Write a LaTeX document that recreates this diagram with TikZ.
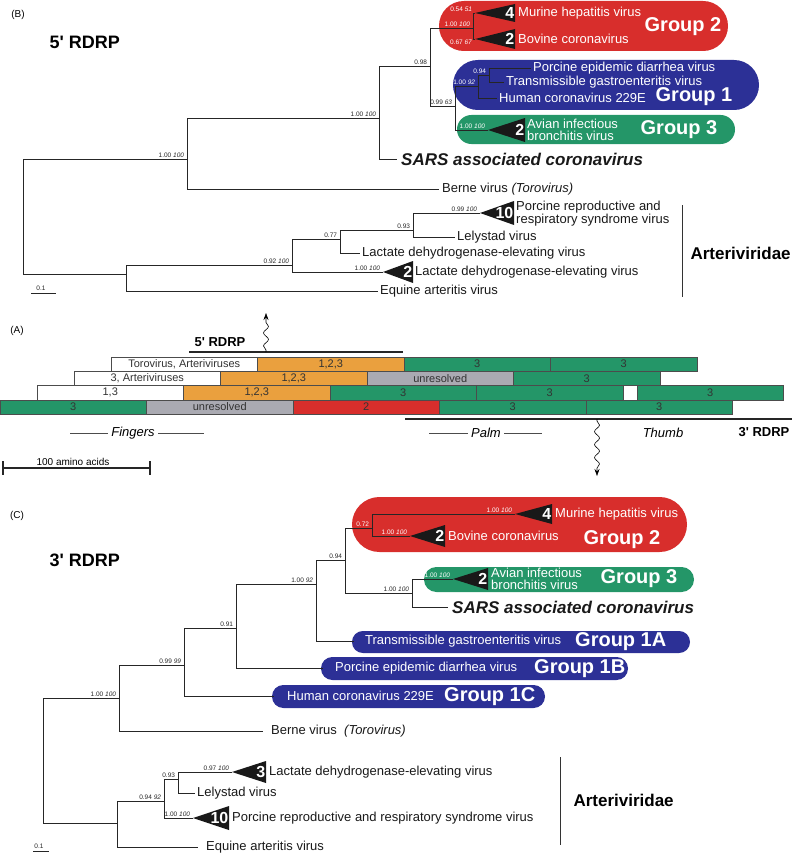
\documentclass[tikz,border=0pt]{standalone}
\usepackage{fontspec}
\setmainfont{Liberation Sans}[Ligatures=TeXOff]
\usepackage{xcolor}
\usepackage{tikz}
\usetikzlibrary{arrows.meta,decorations.pathmorphing}

\definecolor{grpRed}{RGB}{216,46,44}
\definecolor{grpBlue}{RGB}{44,48,150}
\definecolor{grpGreen}{RGB}{36,150,104}
\definecolor{barOrange}{RGB}{234,160,62}
\definecolor{barGray}{RGB}{170,170,178}

\tikzstyle{tsBranch} = [
    draw=black!85,
    line width=0.7pt
]
\tikzstyle{tsSupp} = [
    font=\fontsize{6.5}{7}\selectfont,
    text=black!85,
    anchor=south east,
    inner sep=0.8pt,
    xshift=-2pt
]
\tikzstyle{tsSuppW} = [
    tsSupp,
    text=white
]
\tikzstyle{tsLeaf} = [
    font=\fontsize{13}{13}\selectfont,
    text=black!90,
    anchor=west,
    inner sep=1pt
]
\tikzstyle{tsSars} = [
    tsLeaf,
    font=\bfseries\itshape\fontsize{17}{17}\selectfont
]
\tikzstyle{tsGroupName} = [
    font=\bfseries\fontsize{20}{20}\selectfont,
    text=white,
    inner sep=0pt
]
\tikzstyle{tsCladeNum} = [
    font=\bfseries\fontsize{16}{16}\selectfont,
    text=white,
    anchor=east,
    inner sep=0.5pt
]
\tikzstyle{tsTitle} = [
    font=\bfseries\fontsize{18}{18}\selectfont,
    anchor=west
]
\tikzstyle{tsPanel} = [
    font=\fontsize{10}{10}\selectfont
]
\tikzstyle{tsFamily} = [
    font=\bfseries\fontsize{17}{17}\selectfont,
    anchor=west
]
\tikzstyle{tsBar} = [
    rectangle,
    draw=black!70,
    line width=0.4pt,
    minimum width=146.5pt,
    minimum height=14.3pt,
    inner sep=0pt,
    font=\fontsize{11}{11}\selectfont,
    text=black!80
]
\tikzstyle{tsRdrp} = [
    line width=2pt,
    black!85
]
\tikzstyle{tsRdrpName} = [
    font=\bfseries\fontsize{13}{13}\selectfont
]
\tikzstyle{tsDomain} = [
    font=\itshape\fontsize{13}{13}\selectfont
]
\tikzstyle{tsDomLine} = [
    black!70,
    line width=0.6pt
]
\tikzstyle{tsWavy} = [
    -{Stealth[length=7pt,width=5pt]},
    line width=0.6pt,
    decorate,
    decoration={snake, amplitude=2.5pt, segment length=13pt, pre length=2pt, post length=7pt}
]

\newcommand{\tsClade}[5]{%
    \fill[black!90] (#2) -- ++(#3,-#4) -- ++(0,2*#4) -- cycle;
    \path (#2) ++(#3,0) node[tsCladeNum] (#1) {#5};
}

\begin{document}
\begin{tikzpicture}[x=1pt, y=-1pt]

    \useasboundingbox (0,0) rectangle (792,856);

    % ---------------- (B) 5' RDRP tree ----------------
    \node[tsPanel] (panB) at (18,15) {(B)};
    \node[tsTitle] (titB) at (46,42) {5' RDRP};

    \fill[grpRed, rounded corners=24.9pt] (439,1) rectangle (728,51);
    \fill[grpBlue, rounded corners=24.9pt] (453,60) rectangle (759,110);
    \fill[grpGreen, rounded corners=14.4pt] (457,115) rectangle (735,144);

    \coordinate (rB) at (23,216);
    \coordinate (aB) at (187,159);
    \coordinate (bB) at (379,118);
    \coordinate (cB) at (430,66);
    \coordinate (g2B) at (473,28);
    \coordinate (mhvB) at (475,13);
    \coordinate (bcvB) at (475,39);
    \coordinate (dB) at (455,106);
    \coordinate (g1B) at (478,86);
    \coordinate (eB) at (489,75);
    \coordinate (pedB) at (531,68);
    \coordinate (tgeB) at (504,82);
    \coordinate (hcvB) at (497,98);
    \coordinate (ibvB) at (488,130);
    \coordinate (sarsB) at (397,159);
    \coordinate (berB) at (439,189);
    \coordinate (artB) at (126,274);
    \coordinate (fB) at (292,265);
    \coordinate (gB) at (340,239);
    \coordinate (hB) at (413,230);
    \coordinate (prrB) at (480,213);
    \coordinate (lelB) at (455,237);
    \coordinate (ldvB) at (360,253);
    \coordinate (ldv2B) at (383,272);
    \coordinate (eavB) at (378,291);

    \draw[tsBranch] (rB) |- (aB) (rB) |- (artB)
        (aB) |- (bB) (aB) |- (berB)
        (bB) |- (cB) (bB) |- (sarsB)
        (cB) |- (g2B) (cB) |- (dB)
        (g2B) |- (mhvB) (g2B) |- (bcvB)
        (dB) |- (g1B) (dB) |- (ibvB)
        (g1B) |- (eB) (g1B) |- (hcvB)
        (eB) |- (pedB) (eB) |- (tgeB)
        (artB) |- (fB) (artB) |- (eavB)
        (fB) |- (gB) (fB) |- (ldv2B)
        (gB) |- (hB) (gB) |- (ldvB)
        (hB) |- (prrB) (hB) |- (lelB);

    \tsClade{nMhvB}{mhvB}{40}{9}{4}
    \tsClade{nBcvB}{bcvB}{40}{10}{2}
    \tsClade{nIbvB}{ibvB}{37}{12}{2}
    \tsClade{nPrrB}{prrB}{34}{12}{10}
    \tsClade{nLdvB}{ldv2B}{30}{11}{2}

    \node[tsSupp] (sAB) at (aB) {1.00 \textit{100}};
    \node[tsSupp] (sBB) at (bB) {1.00 \textit{100}};
    \node[tsSupp] (sCB) at (cB) {0.98};
    \node[tsSuppW] (sG2B) at (g2B) {1.00 \textit{100}};
    \node[tsSuppW] (sMhvB) at (mhvB) {0.54 \textit{51}};
    \node[tsSuppW, anchor=north east] (sBcvB) at (bcvB) {0.67 \textit{67}};
    \node[tsSupp] (sDB) at (dB) {0.99 \textit{63}};
    \node[tsSuppW] (sG1B) at (g1B) {1.00 \textit{92}};
    \node[tsSuppW] (sEB) at (eB) {0.94};
    \node[tsSuppW] (sIbvB) at (ibvB) {1.00 \textit{100}};
    \node[tsSupp] (sFB) at (fB) {0.92 \textit{100}};
    \node[tsSupp] (sGB) at (gB) {0.77};
    \node[tsSupp] (sHB) at (hB) {0.93};
    \node[tsSupp] (sPrrB) at (prrB) {0.99 \textit{100}};
    \node[tsSupp] (sLdvB) at (ldv2B) {1.00 \textit{100}};

    \node[tsLeaf, text=white] (tMhvB) at (517,13) {Murine hepatitis virus};
    \node[tsLeaf, text=white] (tBcvB) at (517,39) {Bovine coronavirus};
    \node[tsLeaf, text=white] (tPedB) at (532,68) {Porcine epidemic diarrhea virus};
    \node[tsLeaf, text=white] (tTgeB) at (505,82) {Transmissible gastroenteritis virus};
    \node[tsLeaf, text=white] (tHcvB) at (498,98) {Human coronavirus 229E};
    \node[tsLeaf, text=white, align=left, font=\fontsize{13}{12}\selectfont] (tIbvB) at (526,130) {Avian infectious\\bronchitis virus};
    \node[tsSars] (tSarsB) at (400,159) {SARS associated coronavirus};
    \node[tsLeaf] (tBerB) at (441,189) {Berne virus \textit{(Torovirus)}};
    \node[tsLeaf, align=left] (tPrrB) at (515,214) {Porcine reproductive and\\respiratory syndrome virus};
    \node[tsLeaf] (tLelB) at (456,237) {Lelystad virus};
    \node[tsLeaf] (tLdvB) at (361,253) {Lactate dehydrogenase-elevating virus};
    \node[tsLeaf] (tLdv2B) at (414,272) {Lactate dehydrogenase-elevating virus};
    \node[tsLeaf] (tEavB) at (379,291) {Equine arteritis virus};

    \node[tsGroupName] (grp2B) at (683,27) {Group 2};
    \node[tsGroupName] (grp1B) at (694,97) {Group 1};
    \node[tsGroupName] (grp3B) at (679,130) {Group 3};

    \coordinate (artTopB) at (682,205);
    \coordinate (artBotB) at (682,297);
    \draw[black!80, line width=0.8pt] (artTopB) -- (artBotB);
    \node[tsFamily] (famB) at (687,253) {Arteriviridae};

    \coordinate (sclLB) at (31,293);
    \coordinate (sclRB) at (56,293);
    \draw[black!85, line width=0.7pt] (sclLB) -- (sclRB);
    \node[tsSupp, anchor=south, xshift=0pt] (sclB) at (43,292) {0.1};

    % ---------------- (A) domain map ----------------
    \node[tsPanel] (panA) at (17,331) {(A)};
    \node[tsRdrpName] (rdrp5) at (220,342) {5' RDRP};
    \node[tsRdrpName] (rdrp3) at (764,432) {3' RDRP};

    \coordinate (r5L) at (189,352);
    \coordinate (r5R) at (403,352);
    \coordinate (r3L) at (405,419);
    \coordinate (r3R) at (792,419);
    \draw[tsRdrp] (r5L) -- (r5R);
    \draw[tsRdrp] (r3L) -- (r3R);

    \coordinate (wav5) at (266,352);
    \coordinate (wav5t) at (266,313);
    \coordinate (wav3) at (597,419);
    \coordinate (wav3t) at (597,476);
    \draw[tsWavy] (wav5) -- (wav5t);
    \draw[tsWavy] (wav3) -- (wav3t);

    \foreach \fc/\lab [count=\k from 0] in {white/{Torovirus, Arteriviruses}, barOrange/{1,2,3}, grpGreen/3, grpGreen/3}
        \node[tsBar, fill=\fc] (rowA\k) at (184.25+146.5*\k,364.15) {\lab};
    \foreach \fc/\lab [count=\k from 0] in {white/{3, Arteriviruses}, barOrange/{1,2,3}, barGray/unresolved, grpGreen/3}
        \node[tsBar, fill=\fc] (rowB\k) at (147.25+146.5*\k,378.45) {\lab};
    \foreach \fc/\lab [count=\k from 0] in {white/{1,3}, barOrange/{1,2,3}, grpGreen/3, grpGreen/3}
        \node[tsBar, fill=\fc] (rowC\k) at (110.25+146.5*\k,392.75) {\lab};
    \node[tsBar, fill=white, minimum width=14pt] (rowCgap) at (630,392.75) {};
    \node[tsBar, fill=grpGreen] (rowC4) at (710.25,392.75) {3};
    \foreach \fc/\lab [count=\k from 0] in {grpGreen/3, barGray/unresolved, grpRed/2, grpGreen/3, grpGreen/3}
        \node[tsBar, fill=\fc] (rowD\k) at (73.25+146.5*\k,407.05) {\lab};

    \node[tsDomain] (fing) at (133,433) {Fingers};
    \node[tsDomain] (palm) at (486,433) {Palm};
    \node[tsDomain] (thumb) at (663,433) {Thumb};
    \coordinate (fingL) at (70,433);
    \coordinate (fingR) at (204,433);
    \coordinate (palmL) at (429,433);
    \coordinate (palmR) at (542,433);
    \draw[tsDomLine] (fingL) -- (fing) (fing) -- (fingR);
    \draw[tsDomLine] (palmL) -- (palm) (palm) -- (palmR);

    \coordinate (aaL) at (3,468);
    \coordinate (aaR) at (150,468);
    \draw[black!85, line width=1.6pt] (aaL) -- (aaR);
    \draw[black!85, line width=1.6pt] (3,461) -- (3,475) (150,461) -- (150,475);
    \node[tsPanel, anchor=base] (aaLab) at (73,465) {100 amino acids};

    % ---------------- (C) 3' RDRP tree ----------------
    \node[tsPanel] (panC) at (17,516) {(C)};
    \node[tsTitle] (titC) at (46,560) {3' RDRP};

    \fill[grpRed, rounded corners=27.4pt] (352,497) rectangle (687,552);
    \fill[grpGreen, rounded corners=12.4pt] (424,567) rectangle (694,592);
    \fill[grpBlue, rounded corners=10.9pt] (352,631) rectangle (690,653);
    \fill[grpBlue, rounded corners=11.4pt] (321,657) rectangle (628,680);
    \fill[grpBlue, rounded corners=11.4pt] (272,685) rectangle (545,708);

    \coordinate (rC) at (43,760);
    \coordinate (aC) at (119,698);
    \coordinate (bC) at (184,665);
    \coordinate (cC) at (236,628);
    \coordinate (dC) at (316,584);
    \coordinate (eC) at (345,560);
    \coordinate (g2C) at (372,528);
    \coordinate (mhvC) at (515,514);
    \coordinate (bcvC) at (410,536);
    \coordinate (fC) at (412,593);
    \coordinate (ibvC) at (453,579);
    \coordinate (sarsC) at (448,607);
    \coordinate (tgeC) at (354,641);
    \coordinate (pedC) at (323,668);
    \coordinate (hcvC) at (274,696);
    \coordinate (berC) at (263,731);
    \coordinate (artC) at (117,823);
    \coordinate (f2C) at (164,801);
    \coordinate (hC) at (178,779);
    \coordinate (ldvC) at (232,772);
    \coordinate (lelC) at (195,793);
    \coordinate (prrC) at (193,818);
    \coordinate (eavC) at (198,847);

    \draw[tsBranch] (rC) |- (aC) (rC) |- (artC)
        (aC) |- (bC) (aC) |- (berC)
        (bC) |- (cC) (bC) |- (hcvC)
        (cC) |- (dC) (cC) |- (pedC)
        (dC) |- (eC) (dC) |- (tgeC)
        (eC) |- (g2C) (eC) |- (fC)
        (g2C) |- (mhvC) (g2C) |- (bcvC)
        (fC) |- (ibvC) (fC) |- (sarsC)
        (artC) |- (f2C) (artC) |- (eavC)
        (f2C) |- (hC) (f2C) |- (prrC)
        (hC) |- (ldvC) (hC) |- (lelC);

    \tsClade{nMhvC}{mhvC}{37}{10}{4}
    \tsClade{nBcvC}{bcvC}{35}{11}{2}
    \tsClade{nIbvC}{ibvC}{35}{11}{2}
    \tsClade{nLdvC}{ldvC}{34}{11}{3}
    \tsClade{nPrrC}{prrC}{36}{12}{10}

    \node[tsSupp] (sAC) at (aC) {1.00 \textit{100}};
    \node[tsSupp] (sBC) at (bC) {0.99 \textit{99}};
    \node[tsSupp] (sCC) at (cC) {0.91};
    \node[tsSupp] (sDC) at (dC) {1.00 \textit{92}};
    \node[tsSupp] (sEC) at (eC) {0.94};
    \node[tsSuppW] (sG2C) at (g2C) {0.72};
    \node[tsSuppW] (sMhvC) at (mhvC) {1.00 \textit{100}};
    \node[tsSuppW] (sBcvC) at (bcvC) {1.00 \textit{100}};
    \node[tsSupp] (sFC) at (fC) {1.00 \textit{100}};
    \node[tsSuppW] (sIbvC) at (ibvC) {1.00 \textit{100}};
    \node[tsSupp] (sF2C) at (f2C) {0.94 \textit{92}};
    \node[tsSupp] (sHC) at (hC) {0.93};
    \node[tsSupp] (sLdvC) at (ldvC) {0.97 \textit{100}};
    \node[tsSupp] (sPrrC) at (prrC) {1.00 \textit{100}};

    \node[tsLeaf, text=white] (tMhvC) at (554,514) {Murine hepatitis virus};
    \node[tsLeaf, text=white] (tBcvC) at (447,536) {Bovine coronavirus};
    \node[tsLeaf, text=white, align=left, font=\fontsize{13}{12}\selectfont] (tIbvC) at (490,579) {Avian infectious\\bronchitis virus};
    \node[tsSars] (tSarsC) at (451,607) {SARS associated coronavirus};
    \node[tsLeaf, text=white] (tTgeC) at (364,641) {Transmissible gastroenteritis virus};
    \node[tsLeaf, text=white] (tPedC) at (334,668) {Porcine epidemic diarrhea virus};
    \node[tsLeaf, text=white] (tHcvC) at (286,696) {Human coronavirus 229E};
    \node[tsLeaf] (tBerC) at (270,731) {Berne virus \ \textit{(Torovirus)}};
    \node[tsLeaf] (tLdvC) at (268,772) {Lactate dehydrogenase-elevating virus};
    \node[tsLeaf] (tLelC) at (196,793) {Lelystad virus};
    \node[tsLeaf] (tPrrC) at (231,818) {Porcine reproductive and respiratory syndrome virus};
    \node[tsLeaf] (tEavC) at (205,847) {Equine arteritis virus};

    \node[tsGroupName] (grp2C) at (622,540) {Group 2};
    \node[tsGroupName] (grp3C) at (639,579) {Group 3};
    \node[tsGroupName, anchor=west] (grp1AC) at (575,642) {Group 1A};
    \node[tsGroupName, anchor=west] (grp1BC) at (534,669) {Group 1B};
    \node[tsGroupName, anchor=west] (grp1CC) at (444,697) {Group 1C};

    \coordinate (artTopC) at (560,757);
    \coordinate (artBotC) at (560,845);
    \draw[black!80, line width=0.8pt] (artTopC) -- (artBotC);
    \node[tsFamily] (famC) at (570,800) {Arteriviridae};

    \coordinate (sclLC) at (33,851);
    \coordinate (sclRC) at (49,851);
    \draw[black!85, line width=0.7pt] (sclLC) -- (sclRC);
    \node[tsSupp, anchor=south, xshift=0pt] (sclC) at (41,850) {0.1};

\end{tikzpicture}
\end{document}
